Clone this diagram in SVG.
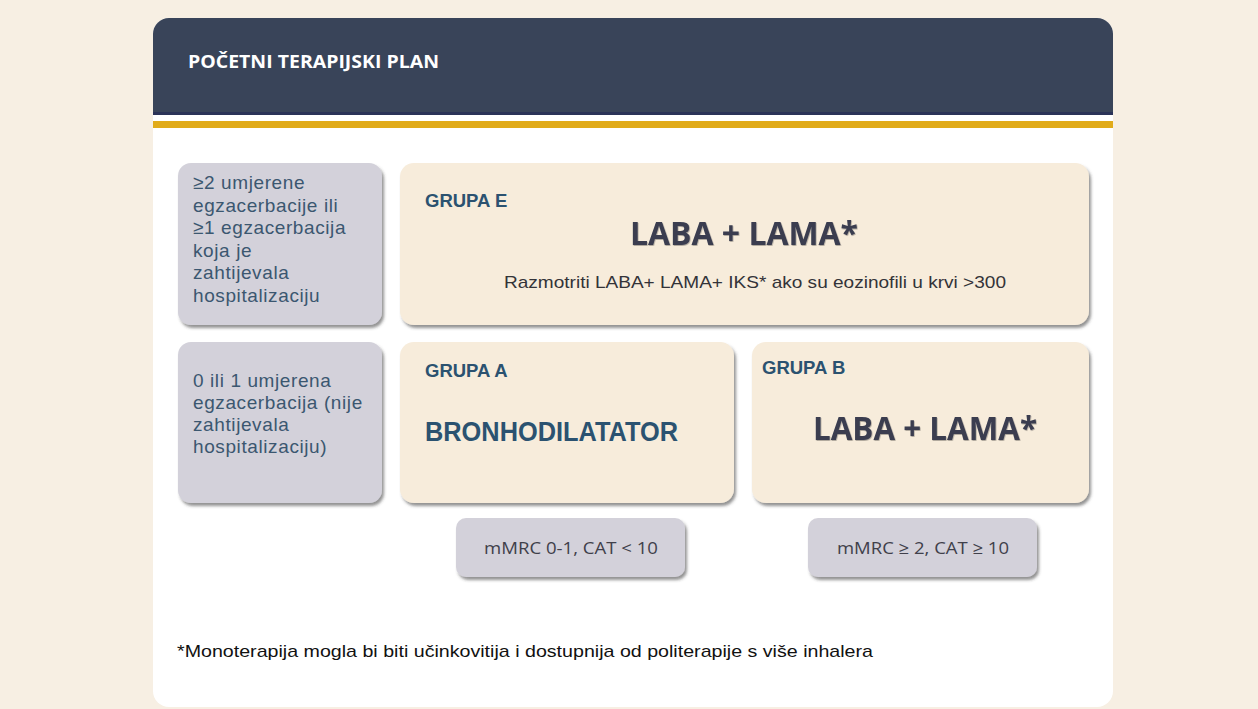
<svg xmlns="http://www.w3.org/2000/svg" width="1258" height="709" viewBox="0 0 1258 709">
<defs>
<filter id="sh" x="-10%" y="-10%" width="125%" height="130%">
<feDropShadow dx="2" dy="3" stdDeviation="1.8" flood-color="#3a3a3a" flood-opacity="0.55"/>
</filter>
<filter id="ts" x="-5%" y="-20%" width="110%" height="150%">
<feDropShadow dx="0.6" dy="0.8" stdDeviation="0.6" flood-color="#000" flood-opacity="0.35"/>
</filter>
<clipPath id="cardclip"><rect x="153" y="18" width="960" height="689" rx="16"/></clipPath>
</defs>
<style>
.gray{fill:#d3d1da;filter:url(#sh)}
.beige{fill:#f7ecdb;filter:url(#sh)}
.lt{font-family:"Liberation Sans",Arial,sans-serif;font-size:19px;fill:#3b5770;letter-spacing:0.6px}
.grp{font-family:"Liberation Sans",Arial,sans-serif;font-size:18.5px;font-weight:bold;fill:#2b5270}
.big{font-family:"Open Sans","Liberation Sans",sans-serif;font-size:33px;font-weight:bold;fill:#3a3d50;filter:url(#ts)}
.small{font-family:"Liberation Sans",Arial,sans-serif;font-size:17px;fill:#333338}
.crit{font-family:"Open Sans","Liberation Sans",sans-serif;font-size:17px;fill:#40404a}
</style>
<rect width="1258" height="709" fill="#f7efe3"/>
<g id="card">
<rect x="153" y="18" width="960" height="689" rx="16" fill="#ffffff"/>
<g clip-path="url(#cardclip)">
<rect x="153" y="18" width="960" height="95" fill="#394459"/>
<rect x="153" y="112" width="960" height="3" fill="#2b3358"/>
<rect x="153" y="121" width="960" height="7" fill="#e1ab1a"/>
</g>
<text x="188" y="68" font-family="'Open Sans','Liberation Sans',sans-serif" font-size="17" font-weight="bold" fill="#ffffff" textLength="251" lengthAdjust="spacingAndGlyphs">POČETNI TERAPIJSKI PLAN</text>
</g>
<g id="cond-high">
<rect class="gray" x="178" y="163" width="204" height="162" rx="13"/>
<text class="lt" x="193" y="189">≥2 umjerene</text>
<text class="lt" x="193" y="211.5">egzacerbacije ili</text>
<text class="lt" x="193" y="234">≥1 egzacerbacija</text>
<text class="lt" x="193" y="256.5">koja je</text>
<text class="lt" x="193" y="279">zahtijevala</text>
<text class="lt" x="193" y="301.5">hospitalizaciju</text>
</g>
<g id="grupa-e">
<rect class="beige" x="400" y="163" width="689" height="162" rx="14"/>
<text class="grp" x="425" y="207">GRUPA E</text>
<text class="big" x="744" y="245" text-anchor="middle" textLength="228" lengthAdjust="spacingAndGlyphs">LABA + LAMA*</text>
<text class="small" x="755" y="288" text-anchor="middle" textLength="502" lengthAdjust="spacingAndGlyphs">Razmotriti LABA+ LAMA+ IKS* ako su eozinofili u krvi &gt;300</text>
</g>
<g id="cond-low">
<rect class="gray" x="178" y="342" width="204" height="161" rx="13"/>
<text class="lt" x="193" y="387">0 ili 1 umjerena</text>
<text class="lt" x="193" y="409">egzacerbacija (nije</text>
<text class="lt" x="193" y="431">zahtijevala</text>
<text class="lt" x="193" y="453">hospitalizaciju)</text>
</g>
<g id="grupa-a">
<rect class="beige" x="400" y="342" width="334" height="161" rx="14"/>
<text class="grp" x="425" y="377">GRUPA A</text>
<text x="425" y="441" font-family="'Liberation Sans',Arial,sans-serif" font-size="27" font-weight="bold" fill="#2b5270" textLength="253" lengthAdjust="spacingAndGlyphs">BRONHODILATATOR</text>
</g>
<g id="grupa-b">
<rect class="beige" x="752" y="342" width="337" height="161" rx="14"/>
<text class="grp" x="762" y="374">GRUPA  B</text>
<text class="big" x="925" y="440" text-anchor="middle" textLength="224" lengthAdjust="spacingAndGlyphs">LABA + LAMA*</text>
</g>
<g id="crit-ab">
<rect class="gray" x="456" y="518" width="229" height="59" rx="10"/>
<text class="crit" x="571" y="554" text-anchor="middle" textLength="174" lengthAdjust="spacingAndGlyphs">mMRC 0-1, CAT &lt; 10</text>
</g>
<g id="crit-b">
<rect class="gray" x="808" y="518" width="229" height="59" rx="10"/>
<text class="crit" x="923" y="554" text-anchor="middle" textLength="172" lengthAdjust="spacingAndGlyphs">mMRC ≥ 2, CAT ≥ 10</text>
</g>
<g id="footnote">
<text x="177" y="657" font-family="'Liberation Sans',Arial,sans-serif" font-size="17" fill="#111111" textLength="696" lengthAdjust="spacingAndGlyphs">*Monoterapija mogla bi biti učinkovitija i dostupnija od politerapije s više inhalera</text>
</g>
<g id="connectors"></g>
</svg>
